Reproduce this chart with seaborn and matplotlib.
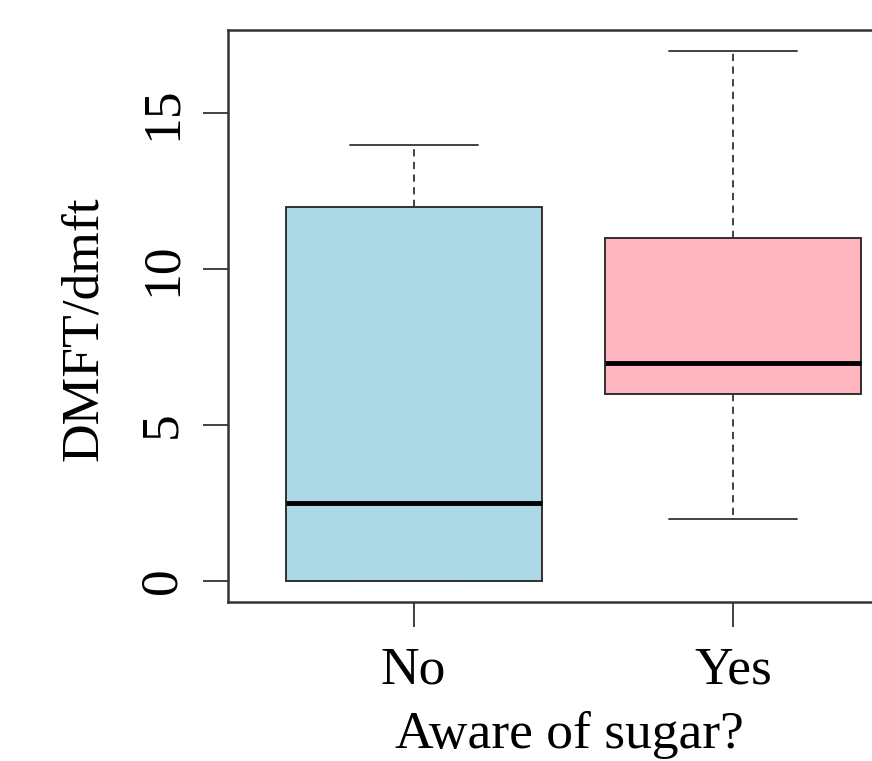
import matplotlib
matplotlib.use("Agg")
import matplotlib.pyplot as plt
import seaborn as sns
import pandas as pd

# five-number summaries (min, Q1, median, Q3, max)
groups = ["No", "Yes"]
no_values = [0, 0, 2.5, 12, 14]
yes_values = [2, 6, 7, 11, 17]
box_colors = ["#ADD8E6", "#FFB6C1"]
y_ticks = [0, 5, 10, 15]

df = pd.DataFrame({
    "group": [groups[0]] * len(no_values) + [groups[1]] * len(yes_values),
    "value": no_values + yes_values,
})

sns.set_style("white")
plt.rcParams["font.family"] = ["Liberation Serif", "DejaVu Serif"]
plt.rcParams["text.color"] = "black"
plt.rcParams["axes.labelcolor"] = "black"
plt.rcParams["xtick.color"] = "black"
plt.rcParams["ytick.color"] = "black"

FS = 38.5
W, H = 872, 761
fig = plt.figure(figsize=(W / 100, H / 100), dpi=100)
left, right, top, bottom = 228, 919, 30, 602
ax = fig.add_axes([left / W, 1 - bottom / H, (right - left) / W, (bottom - top) / H])

sns.boxplot(
    data=df, x="group", y="value", hue="group", palette=box_colors,
    order=groups, width=0.8, whis=1.5, linecolor="black", linewidth=1.3,
    saturation=1, dodge=False, legend=False, ax=ax,
    whiskerprops={"linestyle": (0, (4, 3)), "color": "#333333", "linewidth": 1.3},
    capprops={"color": "#333333", "linewidth": 1.3},
    medianprops={"color": "black", "linewidth": 3.5},
    boxprops={"edgecolor": "#222222", "linewidth": 1.3},
    showfliers=False,
)
# R-style caps: half box width
for line in ax.lines:
    xd = line.get_xdata()
    yd = line.get_ydata()
    if len(xd) == 2 and yd[0] == yd[1] and abs(xd[1] - xd[0]) > 0 and abs(xd[1] - xd[0]) < 0.79:
        c = (xd[0] + xd[1]) / 2
        line.set_xdata([c - 0.2, c + 0.2])

ax.set_xlim(0.42 - 1, 2.58 - 1)
ax.set_ylim(-0.68, 17.68)
ax.set_yticks(y_ticks)
ax.set_yticklabels([str(t) for t in y_ticks], rotation=90, va="center")
ax.set_xlabel("Aware of sugar?", fontsize=FS)
ax.set_ylabel("DMFT/dmft", fontsize=FS)
ax.tick_params(axis="both", labelsize=FS, length=18, width=1.3,
               direction="out", left=True, bottom=True)
ax.tick_params(axis="x", pad=14, colors="black")
ax.tick_params(axis="y", pad=12, colors="black")
ax.tick_params(color="#333333")
# label positions in axes fraction (axes is 691 x 572 px)
ax.xaxis.set_label_coords((569 - left) / (right - left), -(735 - bottom) / (bottom - top), transform=ax.transAxes)
ax.xaxis.label.set_va("center")
ax.yaxis.set_label_coords(-(left - 84) / (right - left), (bottom - 329) / (bottom - top), transform=ax.transAxes)
ax.yaxis.label.set_va("center")
for s in ax.spines.values():
    s.set_color("#333333")
    s.set_linewidth(1.8)
    s.set_visible(True)

fig.savefig("out.png", dpi=100)
